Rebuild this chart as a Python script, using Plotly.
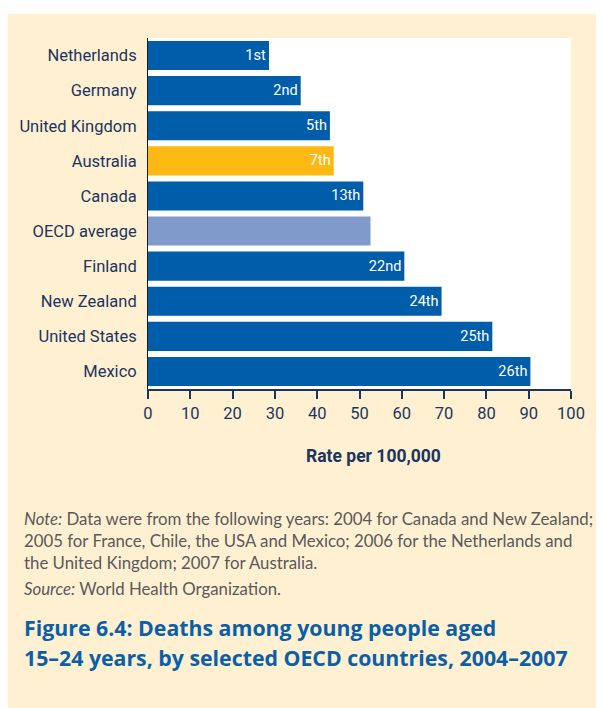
import plotly.graph_objects as go

countries = ["Netherlands", "Germany", "United Kingdom", "Australia", "Canada",
             "OECD average", "Finland", "New Zealand", "United States", "Mexico"]
rates = [28.6, 36.1, 43.0, 43.9, 50.9, 52.6, 60.6, 69.4, 81.4, 90.4]
ranks = ["1st", "2nd", "5th", "7th", "13th", "", "22nd", "24th", "25th", "26th"]
x_ticks = [0, 10, 20, 30, 40, 50, 60, 70, 80, 90, 100]

note_lines = [
    "<i>Note:</i> Data were from the following years: 2004 for Canada and New Zealand;",
    "2005 for France, Chile, the USA and Mexico; 2006 for the Netherlands and",
    "the United Kingdom; 2007 for Australia.",
]
source_line = "<i>Source:</i> World Health Organization."
title_lines = [
    "Figure 6.4: Deaths among young people aged",
    "15–24 years, by selected OECD countries, 2004–2007",
]
x_title = "Rate per 100,000"

BLUE = "#005DAA"
special = {"Australia": "#FDB913", "OECD average": "#7F9ACB"}
colors = [special.get(c, BLUE) for c in countries]

NAVY = "#1B3560"
NARROW = "Roboto, sans-serif"

# page body has an 8px margin; work in screen pixels and convert
OFF = 8
FW, FH = 604, 708
ML, MR, MT, MB = 140, 41, 30, 327
PW, PH = FW - ML - MR, FH - MT - MB


def px_x(px):
    return (px - OFF - ML) / PW


def px_y(py):
    return (FH - MB - (py - OFF)) / PH


fig = go.Figure()
fig.add_trace(go.Bar(
    x=rates, y=countries, orientation="h",
    marker=dict(color=colors, line=dict(width=0)),
    text=ranks, textposition="inside", insidetextanchor="end",
    textangle=0, constraintext="none",
    textfont=dict(family=NARROW, size=14.5, color="white"),
    hoverinfo="skip",
))

shapes = [
    dict(type="rect", xref="paper", yref="paper", layer="below",
         x0=px_x(0), x1=px_x(FW + 20), y0=px_y(FH + 20), y1=px_y(14),
         fillcolor="#FFF0D2", line=dict(width=0)),
    dict(type="rect", xref="paper", yref="paper", layer="below",
         x0=0, x1=1, y0=0, y1=1, fillcolor="white", line=dict(width=0)),
]

annotations = []
annotations.append(dict(
    text=f"<b>{x_title}</b>", xref="paper", yref="paper",
    x=px_x(373), y=px_y(456), xanchor="center", yanchor="middle",
    showarrow=False, font=dict(family=NARROW, size=17.5, color=NAVY)))

NOTE_FONT = dict(family="Lato, sans-serif", size=16.8, color="#58595B")
for line, py in zip(note_lines, [518, 540, 562]):
    annotations.append(dict(
        text=line, xref="paper", yref="paper", x=px_x(22), y=px_y(py),
        xanchor="left", yanchor="middle", showarrow=False, font=NOTE_FONT))
annotations.append(dict(
    text=source_line, xref="paper", yref="paper", x=px_x(22), y=px_y(588),
    xanchor="left", yanchor="middle", showarrow=False, font=NOTE_FONT))
for line, py in zip(title_lines, [627, 657]):
    annotations.append(dict(
        text=f"<b>{line}</b>", xref="paper", yref="paper", x=px_x(22), y=px_y(py),
        xanchor="left", yanchor="middle", showarrow=False,
        font=dict(family="Open Sans, sans-serif", size=21.3, color="#0A5FA8")))

fig.update_layout(
    width=FW, height=FH,
    margin=dict(l=ML, r=MR, t=MT, b=MB, pad=0, autoexpand=False),
    paper_bgcolor="white", plot_bgcolor="rgba(0,0,0,0)",
    bargap=0.17, showlegend=False,
    shapes=shapes, annotations=annotations,
    xaxis=dict(range=[0, 100], tickvals=x_ticks, ticks="outside", ticklen=8,
               tickwidth=2, tickcolor=NAVY, showline=True, linecolor=NAVY,
               linewidth=2, showgrid=False, zeroline=False, automargin=False,
               tickfont=dict(family=NARROW, size=16.5, color=NAVY)),
    yaxis=dict(categoryorder="array", categoryarray=countries, autorange="reversed",
               showline=True, linecolor="#1A1A1A", linewidth=1, showgrid=False,
               zeroline=False, ticks="", ticklabelstandoff=7, automargin=False,
               tickfont=dict(family=NARROW, size=16.5, color=NAVY)),
)

fig.write_html("out.html")
